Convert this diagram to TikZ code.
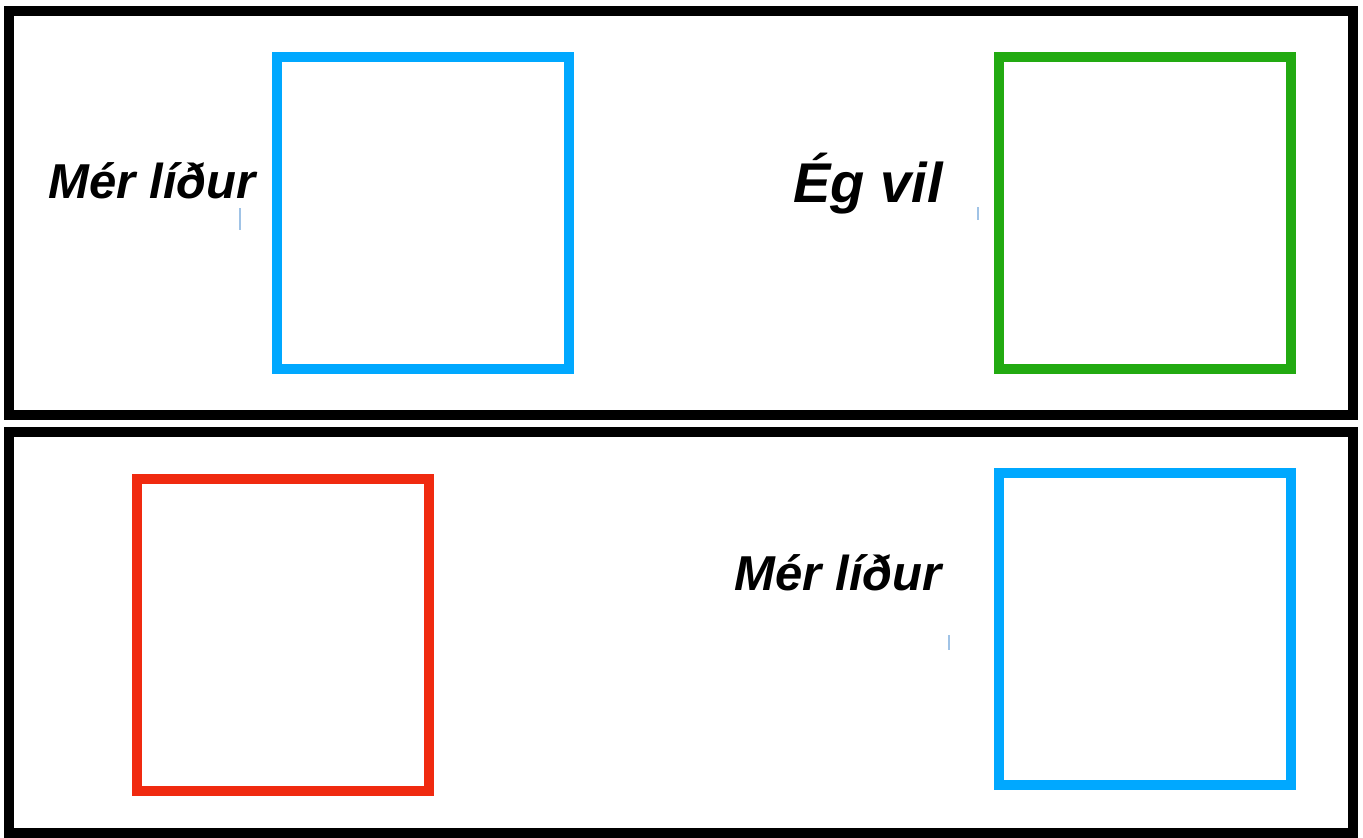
\documentclass[tikz,border=0pt]{standalone}
\usepackage{fontspec}
\setmainfont{Liberation Sans}
\usepackage{tikz}
\definecolor{skyblue}{RGB}{0,168,255}
\definecolor{leafgreen}{RGB}{34,170,17}
\definecolor{flamered}{RGB}{240,42,16}
\definecolor{tickblue}{RGB}{160,195,230}
\tikzset{%
  every panel/.style={
    draw=black,
    line width=10pt
  },
  answer box/.style={
    rectangle,
    line width=10pt,
    minimum width=292pt,
    minimum height=312pt,
    inner sep=0pt
  },
  prompt/.style={
    inner sep=0pt,
    anchor=base east,
    font=\fontsize{49}{58}\selectfont\bfseries\itshape
  },
}

\begin{document}
\begin{tikzpicture}[x=1pt, y=-1pt]
\useasboundingbox[fill=white] (0,0) rectangle (1363,838);
\draw[every panel] (9,11) rectangle (1353,415);
\draw[every panel] (9,432) rectangle (1353,833);
    % top row
    \node[answer box, draw=skyblue] (box_feel_a) at (423,213) {};
    \node[answer box, draw=leafgreen] (box_want) at (1144.5,213) {};
    \node[prompt] (lbl_feel_a) at (256,198) {Mér líður};
    \node[prompt, font=\fontsize{56}{66}\selectfont\bfseries\itshape] (lbl_want) at (943,202) {Ég vil};
    % bottom row
    \node[answer box, draw=flamered] (box_blank) at (283,635) {};
    \node[answer box, draw=skyblue] (box_feel_b) at (1144.5,629) {};
    \node[prompt] (lbl_feel_b) at (942,590) {Mér líður};
    % stray cursor marks
    \foreach \x/\ya/\yb in {240/208/230, 978/207/220, 949/635/650}
        \draw[tickblue, line width=1.5pt] (\x,\ya) -- (\x,\yb);
\end{tikzpicture}
\end{document}
